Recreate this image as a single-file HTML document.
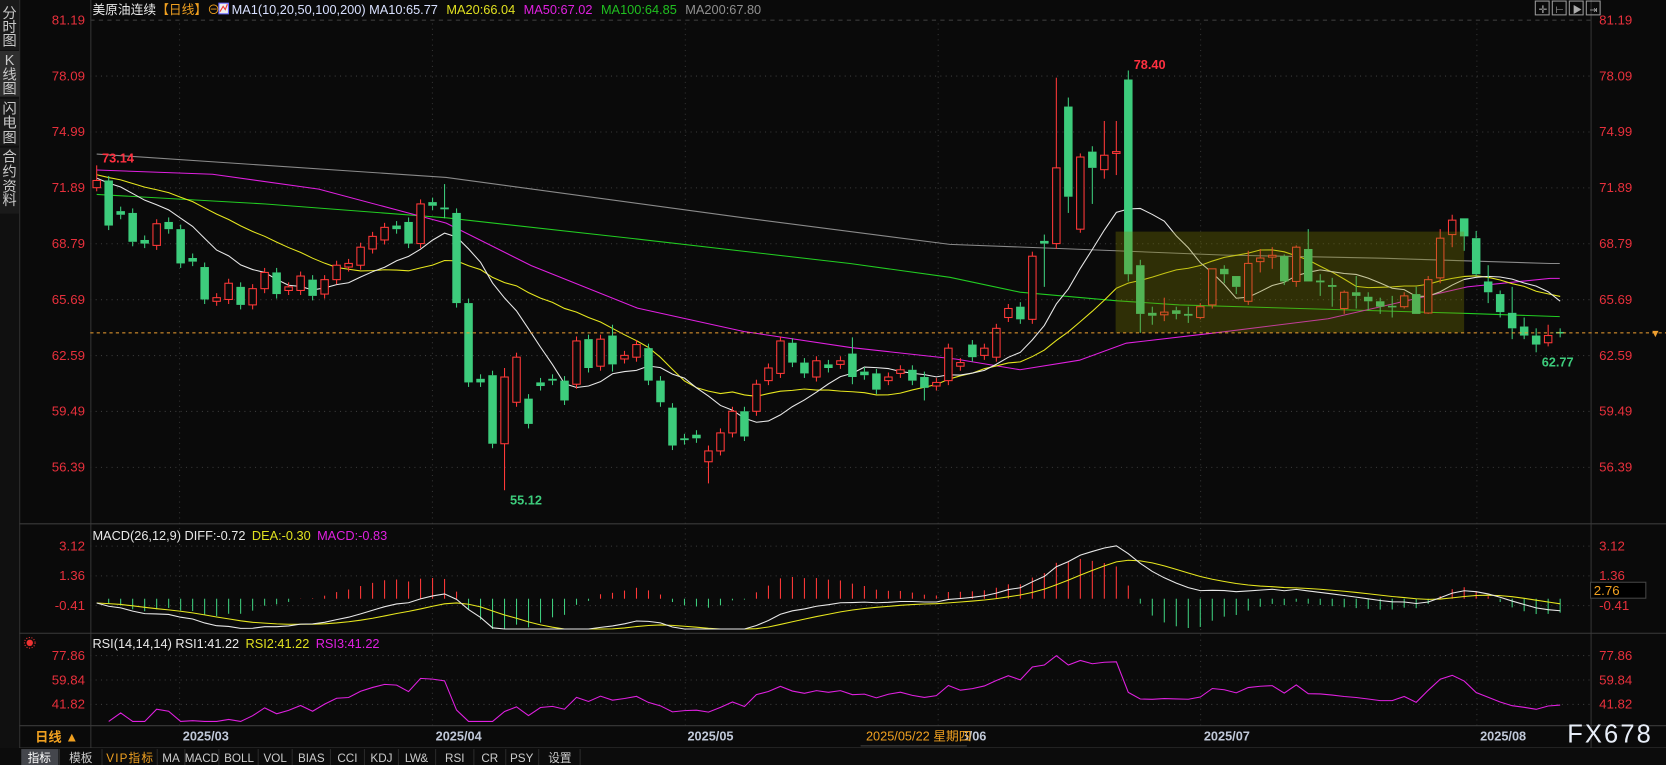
<!DOCTYPE html>
<html><head><meta charset="utf-8"><style>
html,body{margin:0;padding:0;background:#0a0a0a;overflow:hidden}
svg{display:block}
text{font-family:"Liberation Sans","Noto Sans CJK SC",sans-serif}
</style></head><body>
<svg id="s" width="1666" height="765" viewBox="0 0 1568 720" preserveAspectRatio="none" xmlns="http://www.w3.org/2000/svg">
<rect x="0" y="0" width="1568" height="720" fill="#0a0a0a"/>
</svg>
<script>
var D=[[71.9,72.3,73.14,71.7],[72.3,69.8],[70.6,70.4],[70.5,68.9],[69.0,68.8],[68.7,69.9],[70.0,69.6],[69.6,67.7],[68.0,67.8],[67.5,65.7],
[65.6,65.8],[65.7,66.6],[66.4,65.4],[65.4,66.3],[66.3,67.2],[67.2,66.0],[66.2,66.4],[66.2,67.0],[66.8,65.9],[66.0,66.8],
[66.8,67.6],[67.5,67.7],[67.6,68.6],[68.5,69.2],[69.0,69.7],[69.8,69.6],[70.0,68.8],[68.8,71.0],[71.1,70.9],[70.8,70.7,72.1,70.2],
[70.5,65.5],[65.5,61.1],[61.3,61.1],[61.5,57.7],[57.7,61.4,61.9,55.12],[60.0,62.5],[60.2,58.8],[61.1,60.9],[61.3,61.2],[61.2,60.1],
[61.0,63.4],[63.5,61.9],[62.0,63.5],[63.7,62.1,64.3,61.7],[62.4,62.6],[62.5,63.2],[63.0,61.2],[61.2,60.0],[59.7,57.6],[58.0,57.9],
[58.2,58.0],[56.7,57.3,57.6,55.5],[57.3,58.3],[58.3,59.5],[59.5,58.1],[59.5,61.0],[61.2,61.9],[61.6,63.4],[63.3,62.2],[62.2,61.6],
[61.4,62.3],[62.1,61.9],[62.1,62.3],[62.7,61.4,63.6,61.0],[61.7,61.5],[61.6,60.7],[61.2,61.4],[61.6,61.8],[61.8,61.2],[61.4,60.8,61.7,60.1],
[60.9,61.1],[61.2,63.0],[62.0,62.2],[63.2,62.5],[62.6,63.0],[62.5,64.1],[64.7,65.2],[65.3,64.6],[64.6,68.1],[68.95,68.8,69.3,66.4],
[68.8,73.0,78.0,68.5],[76.4,71.4,76.9,70.5],[69.6,73.6,73.8,69.4],[73.9,73.0,74.2,71.0],[72.9,73.7,75.6,72.4],[73.8,73.9,75.6,72.6],[77.9,67.1,78.4,66.7],[67.6,64.9,67.9,63.85],[64.96,64.8,65.3,64.3],[64.85,65.0,65.8,64.5],
[65.1,64.9,65.3,64.6],[64.9,64.8,65.3,64.4],[64.7,65.3,65.5,64.6],[65.4,67.4,67.4,65.2],[67.4,67.1,67.6,66.6],[67.0,66.4,67.0,66.0],[65.6,67.7,68.4,65.4],[67.8,68.0,68.5,67.2],[68.05,68.15,68.6,67.4],[68.1,66.7,68.2,66.5],
[66.7,68.6,68.7,66.4],[68.5,66.7,69.6,66.7],[66.75,66.65,67.1,65.9],[66.5,66.4,66.9,65.3],[65.2,66.1,66.2,64.9],[66.1,65.9,67.0,65.2],[65.85,65.6,66.1,65.1],[65.6,65.3,65.8,64.9],[65.35,65.3,65.9,64.7],[65.3,65.9,66.1,65.2],
[66.0,64.9,66.4,64.9],[64.95,66.8,67.0,64.9],[66.9,69.1,69.6,66.6],[69.3,70.1,70.4,68.6],[70.2,69.2,70.2,68.4],[69.1,67.1,69.5,67.0],[66.7,66.1,67.6,65.5],[66.0,65.0,66.2,64.7],[64.96,64.1,66.4,63.5],[64.2,63.7,64.7,63.5],
[63.7,63.2,64.1,62.77],[63.3,63.7,64.3,63.1],[63.9,63.85,64.1,63.6]];
var RED="#ff3838",GRN="#3dcc7c";
function py(p){return 19+(81.19-p)*16.97}
function cx(i){return 91+i*11.29}
var o='';
var pl=[81.19,78.09,74.99,71.89,68.79,65.69,62.59,59.49,56.39];
pl.forEach(function(p,k){var y=py(p);o+='<line x1="85" y1="'+y+'" x2="1497" y2="'+y+'" stroke="#3a3a3a" stroke-dasharray="'+(k==0?'4,4':'1,4')+'"/>';
o+='<text x="80" y="'+(y+4)+'" fill="#e8303c" font-size="12.5" text-anchor="end">'+p.toFixed(2)+'</text>';
o+='<text x="1505" y="'+(y+4)+'" fill="#e8303c" font-size="12.5">'+p.toFixed(2)+'</text>';});
[169,407,645,883,1130,1390].forEach(function(x){o+='<line x1="'+x+'" y1="22" x2="'+x+'" y2="683" stroke="#333" stroke-dasharray="1,4"/>';});
[[3.12,514],[1.36,542],[-0.41,570]].forEach(function(a){o+='<line x1="85" y1="'+a[1]+'" x2="1497" y2="'+a[1]+'" stroke="#3a3a3a" stroke-dasharray="1,4"/><text x="80" y="'+(a[1]+4)+'" fill="#e8303c" font-size="12.5" text-anchor="end">'+a[0].toFixed(2)+'</text><text x="1505" y="'+(a[1]+4)+'" fill="#e8303c" font-size="12.5">'+a[0].toFixed(2)+'</text>';});
[[77.86,617],[59.84,640],[41.82,663]].forEach(function(a){o+='<line x1="85" y1="'+a[1]+'" x2="1497" y2="'+a[1]+'" stroke="#3a3a3a" stroke-dasharray="1,4"/><text x="80" y="'+(a[1]+4)+'" fill="#e8303c" font-size="12.5" text-anchor="end">'+a[0].toFixed(2)+'</text><text x="1505" y="'+(a[1]+4)+'" fill="#e8303c" font-size="12.5">'+a[0].toFixed(2)+'</text>';});
o+='<line x1="18.5" y1="0" x2="18.5" y2="704" stroke="#333"/><line x1="85.5" y1="0" x2="85.5" y2="704" stroke="#333"/><line x1="1497.5" y1="0" x2="1497.5" y2="704" stroke="#333"/>';
[493,596,683,704].forEach(function(y){o+='<line x1="18" y1="'+y+'" x2="1568" y2="'+y+'" stroke="#3a3a3a"/>';});
function pls(pts,c){return '<polyline fill="none" stroke="'+c+'" stroke-width="1" points="'+pts.join(' ')+'"/>';}
o+=pls(["91,145","420,167","700,205","894,230","1000,234","1150,240","1300,243","1459,248","1468,248"],"#8a8a8a");
o+=pls(["91,183","250,192","420,205","600,225","800,248","894,261","960,275","1050,283","1110,287","1381,295","1468,298"],"#22cc22");
o+=pls(["91,160","200,164","300,178","420,210","500,250","600,290","700,312","800,327","900,338","960,348","1016,339","1060,323","1146,313","1250,300","1381,270","1459,262","1468,262"],"#e020e0");
var C=[];for(var k=0;k<60;k++)C.push(74.5-2.2*k/59);
D.forEach(function(d){C.push(d[1]);});var P=60;
function ma(n,i){var s=0;for(var j=i-n+1;j<=i;j++)s+=C[j];return s/n;}
var m10=[],m20=[];for(var i=0;i<D.length;i++){m10.push(cx(i).toFixed(1)+','+py(ma(10,i+P)).toFixed(1));m20.push(cx(i).toFixed(1)+','+py(ma(20,i+P)).toFixed(1));}
o+=pls(m20,"#e6e61e");o+=pls(m10,"#e8e8e8");
D.forEach(function(d,i){var O=d[0],Cc=d[1],up=Cc>=O,H=d[2]!=null?d[2]:Math.max(O,Cc)+0.25,L=d[3]!=null?d[3]:Math.min(O,Cc)-0.25;var x=cx(i),col=up?RED:GRN;
var t=py(Math.max(O,Cc)),b=py(Math.min(O,Cc));if(b-t<1.5)b=t+1.5;
o+='<line x1="'+x+'" y1="'+py(H)+'" x2="'+x+'" y2="'+t+'" stroke="'+col+'"/><line x1="'+x+'" y1="'+b+'" x2="'+x+'" y2="'+py(L)+'" stroke="'+col+'"/>';
if(up)o+='<rect x="'+(x-3.5)+'" y="'+t+'" width="7" height="'+(b-t)+'" fill="#0a0a0a" stroke="'+col+'"/>';else o+='<rect x="'+(x-4)+'" y="'+t+'" width="8" height="'+(b-t)+'" fill="'+col+'"/>';});
o+='<rect x="1050" y="218" width="328" height="95" fill="#808000" opacity="0.32"/>';
o+='<line x1="85" y1="313.3" x2="1568" y2="313.3" stroke="#f0a030" stroke-dasharray="3,3"/>';
o+='<text x="1553" y="317" fill="#f0a030" font-size="10">&#9660;</text>';
o+='<text x="96" y="153" fill="#ff3040" font-size="12" font-weight="bold">73.14</text><text x="480" y="475" fill="#3dcc7c" font-size="12" font-weight="bold">55.12</text><text x="1067" y="65" fill="#ff3040" font-size="12" font-weight="bold">78.40</text><text x="1451" y="345" fill="#3dcc7c" font-size="12" font-weight="bold">62.77</text>';
function ema(a,n){var r=[a[0]];for(var i=1;i<a.length;i++)r.push((2*a[i]+(n-1)*r[i-1])/(n+1));return r;}
var e12=ema(C,12),e26=ema(C,26),dif=C.map(function(v,i){return e12[i]-e26[i];}),dea=ema(dif,9);
function my(v){return Math.max(498,Math.min(592,563.5-v*15.8));}
var dl=[],el=[];
for(var i=0;i<D.length;i++){var j=i+P,m=2*(dif[j]-dea[j]),x=cx(i);o+='<line x1="'+x+'" y1="'+my(0)+'" x2="'+x+'" y2="'+my(m)+'" stroke="'+(m>=0?RED:GRN)+'"/>';
dl.push(x.toFixed(1)+','+my(dif[j]).toFixed(1));el.push(x.toFixed(1)+','+my(dea[j]).toFixed(1));}
o+=pls(el,"#e6e61e");o+=pls(dl,"#e8e8e8");
var su=0.15,sd=0.17,rl=[];
for(var j=P+1;j<C.length;j++){var ch=C[j]-C[j-1];su=(Math.max(ch,0)+13*su)/14;sd=(Math.max(-ch,0)+13*sd)/14;var r=sd==0?100:100*su/(su+sd);rl.push(cx(j-P).toFixed(1)+','+Math.max(600,Math.min(679,663-(r-41.82)*1.276)).toFixed(1));}
o+=pls(rl,"#e020e0");
o+='<text x="87" y="13" font-size="12"><tspan fill="#e8e8e8">美原油连续</tspan><tspan fill="#f0a020">【日线】</tspan><tspan fill="#f0a020">⊖ </tspan></text>';
o+='<rect x="206" y="3" width="9" height="10" fill="#eee" stroke="#66f"/><polyline points="207,11 210,6 212,9 214,4" fill="none" stroke="#e33"/>';
o+='<text x="218" y="13" font-size="12"><tspan fill="#d8e0ff">MA1(10,20,50,100,200) MA10:65.77</tspan><tspan fill="#e0e020" dx="8">MA20:66.04</tspan><tspan fill="#e020e0" dx="8">MA50:67.02</tspan><tspan fill="#20c020" dx="8">MA100:64.85</tspan><tspan fill="#909090" dx="8">MA200:67.80</tspan></text>';
o+='<text x="87" y="508" font-size="12"><tspan fill="#e8e8e8">MACD(26,12,9) DIFF:-0.72</tspan><tspan fill="#e0e020" dx="6">DEA:-0.30</tspan><tspan fill="#e020e0" dx="6">MACD:-0.83</tspan></text>';
o+='<text x="87" y="610" font-size="12"><tspan fill="#e8e8e8">RSI(14,14,14) RSI1:41.22</tspan><tspan fill="#e0e020" dx="6">RSI2:41.22</tspan><tspan fill="#e020e0" dx="6">RSI3:41.22</tspan></text>';
o+='<circle cx="28" cy="605" r="3" fill="#e33"/><circle cx="28" cy="605" r="5" fill="none" stroke="#e33" stroke-dasharray="1,1.5"/>';
o+='<rect x="1497" y="548" width="52" height="15" fill="#000" stroke="#444"/><text x="1500" y="560" fill="#f0a020" font-size="12.5">2.76</text>';
[1445,1461,1477,1493].forEach(function(x){o+='<rect x="'+x+'" y="1" width="13" height="13" fill="none" stroke="#999"/>';});
o+='<text x="1448" y="12" fill="#aaa" font-size="10">✛</text><text x="1464" y="12" fill="#aaa" font-size="9">⊢</text><text x="1480" y="12" fill="#aaa" font-size="9">▶</text><text x="1496" y="12" fill="#aaa" font-size="9">⇥</text>';
// sidebar
o+='<rect x="0" y="0" width="18" height="704" fill="#101010"/><rect x="0" y="0" width="18" height="47" fill="#1a1a1a"/><rect x="0" y="48" width="18" height="43" fill="#2e2e2e"/><rect x="0" y="93" width="18" height="44" fill="#1a1a1a"/><rect x="0" y="139" width="18" height="62" fill="#1a1a1a"/>';
var sb=[["分",17],["时",30],["图",43],["K",61],["线",75],["图",88],["闪",107],["电",120],["图",134],["合",152],["约",166],["资",180],["料",193]];
sb.forEach(function(a){o+='<text x="9" y="'+a[1]+'" fill="#c8c8c8" font-size="13.5" text-anchor="middle">'+a[0]+'</text>';});
[["2025/03",172],["2025/04",410],["2025/05",647],["2025/06",885],["2025/07",1133],["2025/08",1393]].forEach(function(a){o+='<text x="'+a[1]+'" y="697" fill="#c0c8d8" font-size="12" font-weight="bold">'+a[0]+'</text>';});
o+='<rect x="812" y="684" width="96" height="18" fill="#0a0a0a"/><text x="815" y="697" fill="#f0a020" font-size="12">2025/05/22 星期四</text><line x1="810" y1="702" x2="910" y2="702" stroke="#444"/>';
o+='<text x="33" y="698" fill="#f0a020" font-size="12.5" font-weight="bold">日线 ▲</text>';
o+='<text x="1475" y="699" fill="#e8eef8" font-size="24" letter-spacing="2">FX678</text>';
// toolbar
o+='<rect x="0" y="704" width="1568" height="16" fill="#0c0c0c"/><rect x="20" y="705" width="35" height="15" fill="#44464c"/>';
var tb=[["指标",37,"#fff",56],["模板",76,"#ccc",96],["VIP指标",122,"#f0a020",148],["MA",161,"#ccc",174],["MACD",190,"#ccc",206],["BOLL",225,"#ccc",243],["VOL",259,"#ccc",275],["BIAS",293,"#ccc",311],["CCI",327,"#ccc",343],["KDJ",359,"#ccc",375],["LW&amp;",392,"#ccc",410],["RSI",428,"#ccc",446],["CR",461,"#ccc",476],["PSY",491,"#ccc",507],["设置",527,"#ccc",546]];
tb.forEach(function(a){o+='<text x="'+a[1]+'" y="717" fill="'+a[2]+'" font-size="11" text-anchor="middle" font-family="Liberation Mono,Noto Sans CJK SC,monospace" textLength="'+(a[0].length>4?(a[0]=='VIP指标'?44:22):'')+'">'+a[0]+'</text><line x1="'+(a[3])+'" y1="705" x2="'+(a[3])+'" y2="720" stroke="#2a2a2a"/>';});
document.getElementById('s').insertAdjacentHTML('beforeend',o.replace(/ textLength=""/g,''));
</script>
</body></html>
